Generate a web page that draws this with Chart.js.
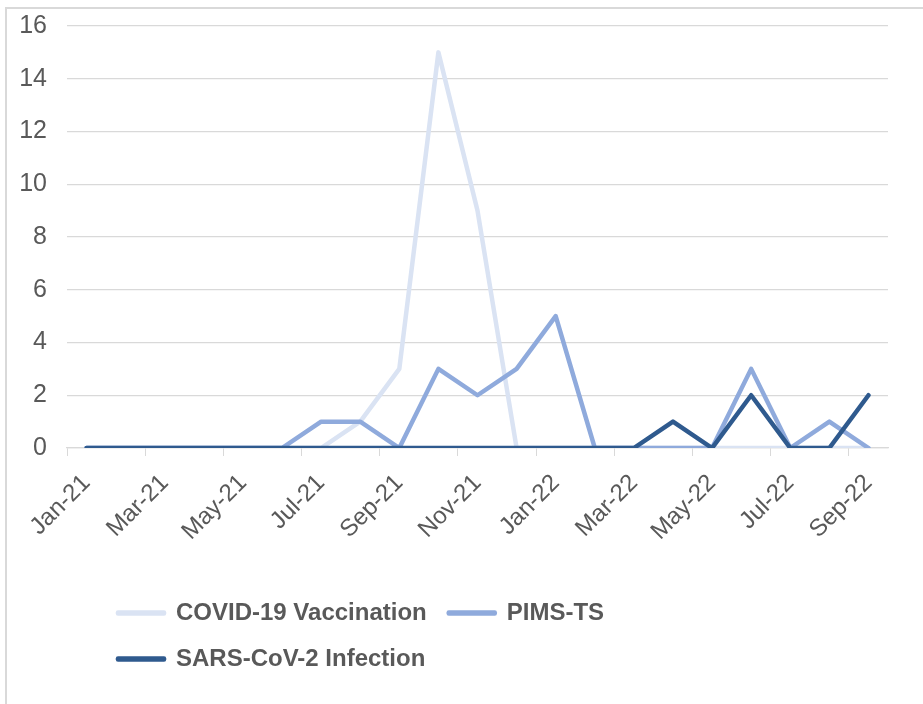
<!DOCTYPE html>
<html>
<head>
<meta charset="utf-8">
<script src="https://cdn.jsdelivr.net/npm/chart.js@4/dist/chart.umd.min.js"></script>
<style>
    html, body { margin: 0; padding: 0; background: #fff; }
    #wrap { position: relative; width: 923px; height: 704px; overflow: hidden; }
    #frame { position: absolute; left: 5px; top: 7px; width: 930px; height: 710px;
             border-left: 2px solid #d9d9d9; border-top: 2px solid #d9d9d9; }
    #casesChart { position: absolute; left: 0; top: 0; }
</style>
</head>
<body>
<div id="wrap">
    <div id="frame"></div>
    <canvas id="casesChart" width="923" height="704"></canvas>
</div>
<script>
const months = ['Jan-21', 'Feb-21', 'Mar-21', 'Apr-21', 'May-21', 'Jun-21', 'Jul-21', 'Aug-21', 'Sep-21', 'Oct-21', 'Nov-21', 'Dec-21',
    'Jan-22', 'Feb-22', 'Mar-22', 'Apr-22', 'May-22', 'Jun-22', 'Jul-22', 'Aug-22', 'Sep-22'];
const vaccination = [0, 0, 0, 0, 0, 0, 0, 1, 3, 15, 9, 0, 0, 0, 0, 0, 0, 0, 0, 0, 0];
const pimsTs = [0, 0, 0, 0, 0, 0, 1, 1, 0, 3, 2, 3, 5, 0, 0, 0, 0, 3, 0, 1, 0];
const sarsInfection = [0, 0, 0, 0, 0, 0, 0, 0, 0, 0, 0, 0, 0, 0, 0, 1, 0, 2, 0, 0, 2];
const yTicks = [0, 2, 4, 6, 8, 10, 12, 14, 16];

const fontFamily = "'Liberation Sans', Arial, sans-serif";
const gridGrey = '#d9d9d9';

// put the legend block where the original has it, and make it wrap after PIMS-TS
const legendPlace = {
    id: 'legendPlace',
    afterLayout(chart) {
        const lg = chart.legend;
        lg.left = 96;
        lg.right = 700;
        lg.top = 579;
        lg.bottom = 700;
    }
};

// no extra room for overhanging tick labels, the layout padding decides the plot box
function noOverhang(s) {
    s.paddingTop = 0;
    s.paddingBottom = 0;
    s.paddingLeft = 0;
    s.paddingRight = 0;
}

function lineSet(label, data, colour, order) {
    return {
        label: label,
        data: data,
        borderColor: colour,
        backgroundColor: colour,
        borderWidth: 4.5,
        pointRadius: 0,
        tension: 0,
        borderJoinStyle: 'round',
        borderCapStyle: 'round',
        order: order
    };
}

const ctx = document.getElementById('casesChart').getContext('2d');
const myChart = new Chart(ctx, {
    type: 'line',
    data: {
        labels: months,
        datasets: [
            lineSet('COVID-19 Vaccination', vaccination, '#dae3f3', 3),
            lineSet('PIMS-TS', pimsTs, '#8faadc', 2),
            lineSet('SARS-CoV-2 Infection', sarsInfection, '#2f5a8e', 1)
        ]
    },
    options: {
        responsive: false,
        animation: false,
        layout: { padding: { left: 5, right: 35, top: 26, bottom: 90 } },
        plugins: {
            tooltip: { enabled: false },
            legend: {
                position: 'bottom',
                align: 'start',
                reverse: true,
                labels: {
                    boxWidth: 46,
                    boxHeight: 1,
                    padding: 22,
                    color: '#595959',
                    font: { family: fontFamily, size: 24, weight: 'bold' }
                }
            }
        },
        scales: {
            x: {
                offset: true,
                grid: {
                    offset: true,
                    drawOnChartArea: false,
                    tickLength: 8,
                    tickColor: c => (c.index % 2 === 0 ? gridGrey : 'rgba(0,0,0,0)')
                },
                border: { color: gridGrey, width: 1.3 },
                ticks: {
                    autoSkip: false,
                    minRotation: 45,
                    maxRotation: 45,
                    padding: 13,
                    color: '#595959',
                    font: { family: fontFamily, size: 24 },
                    callback: function (value, index) {
                        return index % 2 === 0 ? months[index] : '';
                    }
                },
                afterFit: s => { s.height = 110; noOverhang(s); }
            },
            y: {
                min: 0,
                max: 16,
                afterBuildTicks: s => { s.ticks = yTicks.map(v => ({ value: v })); },
                grid: { color: gridGrey, lineWidth: 1.3, drawTicks: false },
                border: { display: false },
                ticks: { padding: 20, color: '#595959', font: { family: fontFamily, size: 25 } },
                afterFit: s => { s.width = 62; noOverhang(s); }
            }
        }
    },
    plugins: [legendPlace]
});
</script>
</body>
</html>
